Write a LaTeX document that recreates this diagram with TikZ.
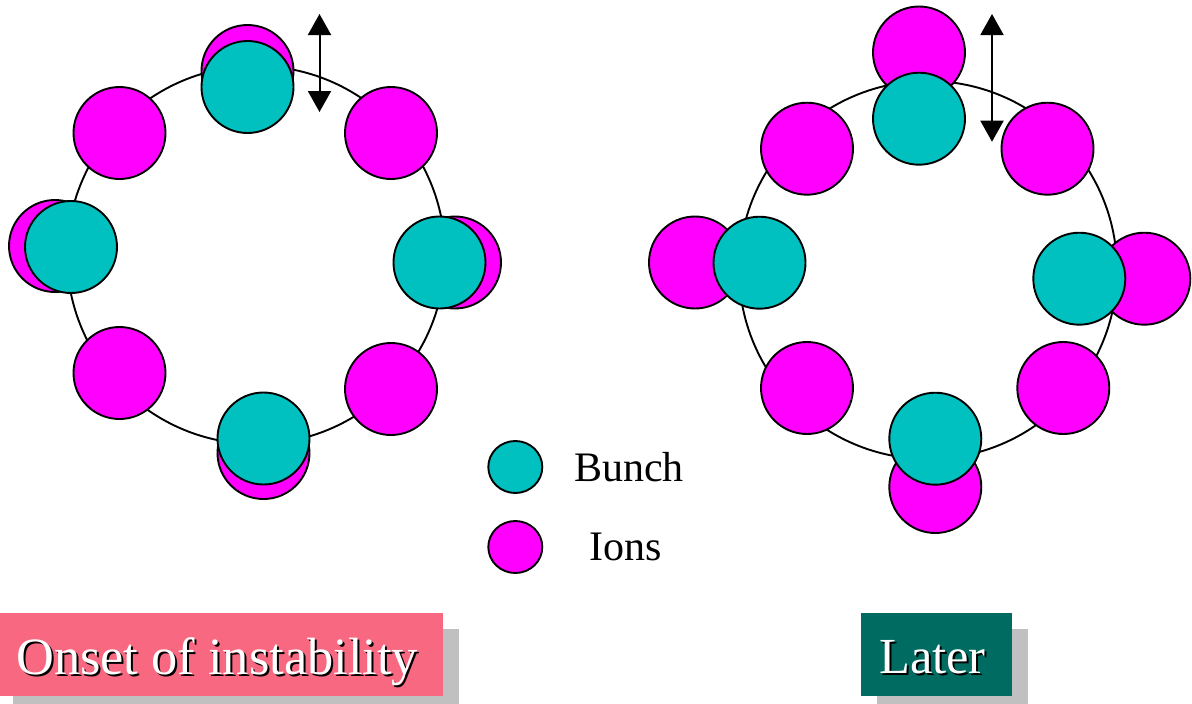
\documentclass[tikz,border=0pt]{standalone}
\usepackage{fontspec}
\setmainfont{Liberation Serif}
\usetikzlibrary{arrows.meta,shapes.geometric}
\definecolor{bunchc}{RGB}{0,192,192}
\definecolor{ionc}{RGB}{255,0,255}
\definecolor{pinkc}{RGB}{248,104,128}
\definecolor{tealc}{RGB}{0,107,96}
\definecolor{shadc}{RGB}{192,192,192}
\tikzset{
  ion/.style={circle,draw=black,line width=1.9pt,fill=ionc,minimum size=92pt,inner sep=0pt},
  bunch/.style={circle,draw=black,line width=1.9pt,fill=bunchc,minimum size=92pt,inner sep=0pt},
  ring/.style={draw=black,line width=1.9pt},
  legdot/.style={ellipse,draw=black,line width=1.9pt,minimum width=54pt,minimum height=52pt,inner sep=0pt},
  motion/.style={line width=2pt,{Triangle[width=23pt,length=21pt]}-{Triangle[width=23pt,length=21pt]}},
  legtext/.style={anchor=base west,inner sep=0pt,font=\fontsize{42}{48}\selectfont},
  labtext/.style={anchor=base west,inner sep=0pt,text=white},
  labshadow/.style={anchor=base west,inner sep=0pt,text=black}
}
\begin{document}
\begin{tikzpicture}[x=1pt,y=-1pt]
\useasboundingbox (0,0) rectangle (1192,704);
% ---------- left ring (onset) ----------
\node[circle,ring,minimum size=378pt,inner sep=0pt] (ringL) at (256,255) {};
\node[ion] (Lt)  at (247.5,71) {};
\node[ion] (Ltl) at (119.5,133) {};
\node[ion] (Ltr) at (391,133) {};
\node[ion] (Ll)  at (55,246) {};
\node[ion] (Lr)  at (455,262.5) {};
\node[ion] (Lbl) at (119.5,373) {};
\node[ion] (Lbr) at (391,389) {};
\node[ion] (Lb)  at (263.5,453) {};
\node[bunch] (LBt) at (247.5,87) {};
\node[bunch] (LBl) at (71,247) {};
\node[bunch] (LBr) at (439.5,262.5) {};
\node[bunch] (LBb) at (263.5,438.5) {};
\coordinate (LaT) at (319.5,14);
\coordinate (LaB) at (319.5,112);
\draw[motion] (LaT) -- (LaB);
% ---------- right ring (later) ----------
\node[circle,ring,minimum size=378pt,inner sep=0pt] (ringR) at (928,270) {};
\node[ion] (Rt)  at (919,52.5) {};
\node[ion] (Rtl) at (807,148.7) {};
\node[ion] (Rtr) at (1047.5,148.7) {};
\node[ion] (Rl)  at (695,262.5) {};
\node[ion] (Rr)  at (1144.3,278.7) {};
\node[ion] (Rbl) at (807,388) {};
\node[ion] (Rbr) at (1063.3,388) {};
\node[ion] (Rb)  at (935.3,487) {};
\node[bunch] (RBt) at (919,118.7) {};
\node[bunch] (RBl) at (759.5,262.7) {};
\node[bunch] (RBr) at (1079.3,278.7) {};
\node[bunch] (RBb) at (935.3,438.7) {};
\coordinate (RaT) at (992,14);
\coordinate (RaB) at (992,141.7);
\draw[motion] (RaT) -- (RaB);
% ---------- legend ----------
\node[legdot,fill=bunchc] (legB) at (515.3,467) {};
\node[legdot,fill=ionc] (legI) at (515.3,547) {};
\node[legtext] (tB) at (574,481.7) {Bunch};
\node[legtext] (tI) at (589.5,560.7) {Ions};
% ---------- labels ----------
\fill[shadc] (12.5,629.2) rectangle (459.2,712);
\fill[pinkc] (-4,612.7) rectangle (442.7,695.7);
\node[labshadow,font=\fontsize{52.4}{60}\selectfont] (onsetS) at (18,676) {Onset of instability};
\node[labtext,font=\fontsize{52.4}{60}\selectfont] (onset) at (16,674) {Onset of instability};
\fill[shadc] (877,629.3) rectangle (1028,712);
\fill[tealc] (861,612.7) rectangle (1011.7,696);
\node[labshadow,font=\fontsize{50.5}{58}\selectfont] (laterS) at (881,675.3) {Later};
\node[labtext,font=\fontsize{50.5}{58}\selectfont] (later) at (879,673.3) {Later};
\end{tikzpicture}
\end{document}
